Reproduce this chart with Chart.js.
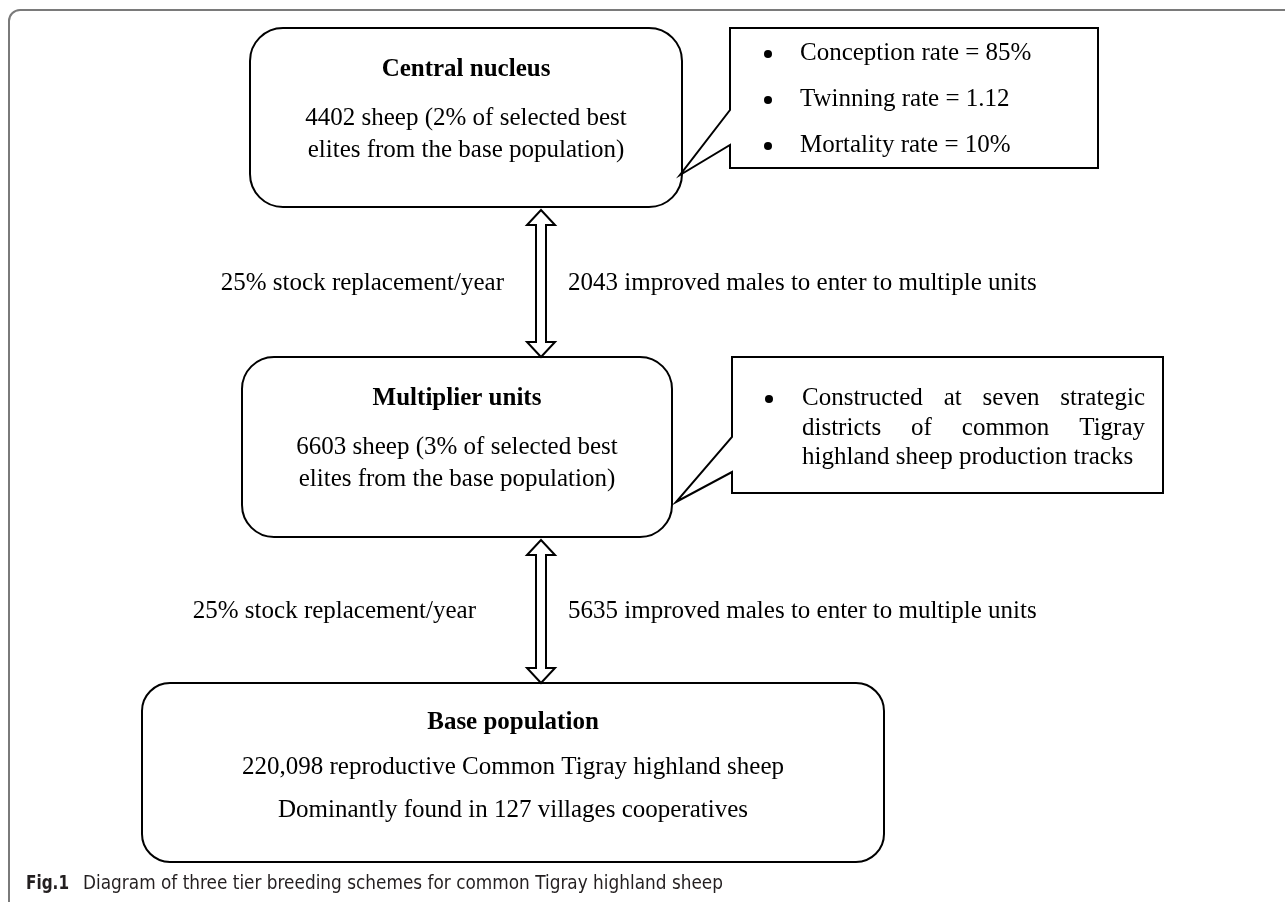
<!DOCTYPE html>
<html>
<head>
<meta charset="utf-8">
<script src="https://cdn.jsdelivr.net/npm/chart.js@4.4.1/dist/chart.umd.min.js"></script>
<style>
html,body{margin:0;padding:0;background:#fff;}
#wrap{width:1285px;height:902px;position:relative;}
</style>
</head>
<body>
<div id="wrap"><canvas id="c"></canvas></div>
<script>
// ---- content (data) ----
const tierTitles = ['Central nucleus', 'Multiplier units', 'Base population'];
const tierLines = [
  ['4402 sheep (2% of selected best', 'elites from the base population)'],
  ['6603 sheep (3% of selected best', 'elites from the base population)'],
  ['220,098 reproductive Common Tigray highland sheep', 'Dominantly found in 127 villages cooperatives']
];
const nucleusNotes = ['Conception rate = 85%', 'Twinning rate = 1.12', 'Mortality rate = 10%'];
const multiplierNotes = ['Constructed at seven strategic', 'districts of common Tigray', 'highland sheep production tracks'];
const flowLeft = ['25% stock replacement/year', '25% stock replacement/year'];
const flowRight = ['2043 improved males to enter to multiple units', '5635 improved males to enter to multiple units'];
const captionLabel = 'Fig.1';
const captionText = 'Diagram of three tier breeding schemes for common Tigray highland sheep';

// ---- layout (page units on the chart's own x/y scales) ----
const boxLayout = [
  {x0: 250, y0: 28,  x1: 682, y1: 207, r: 33, title: 70,  lines: [118, 150]},
  {x0: 242, y0: 357, x1: 672, y1: 537, r: 32, title: 399, lines: [447, 479]},
  {x0: 142, y0: 683, x1: 884, y1: 862, r: 28, title: 723, lines: [767, 810]}
];
const noteLayout = [
  {x0: 730, y0: 28, x1: 1098, y1: 168, tailA: 110, tailB: 145, tip: [680, 175], bullet: 768, text: 800, right: null, rows: [53, 99, 145]},
  {x0: 732, y0: 357, x1: 1163, y1: 493, tailA: 437, tailB: 472, tip: [676, 502], bullet: 769, text: 802, right: 1145, rows: [398, 428, 457]}
];
const arrowLayout = [{x: 541, y0: 210, y1: 357, label: 283, leftEnd: 504, rightStart: 568},
                     {x: 541, y0: 540, y1: 683, label: 611, leftEnd: 476, rightStart: 568}];

const SERIF = '"Liberation Serif", "Times New Roman", serif';
const CAPFONT = '"Liberation Sans Narrow", "DejaVu Sans Condensed", "Open Sans", sans-serif';
const FS = 25;

const diagramPlugin = {
  id: 'diagram',
  afterDatasetsDraw(chart) {
    const ctx = chart.ctx, sx = chart.scales.x, sy = chart.scales.y;
    const X = v => sx.getPixelForValue(v), Y = v => sy.getPixelForValue(v);
    ctx.save();

    // outer frame
    ctx.strokeStyle = '#7a7a7a'; ctx.lineWidth = 2;
    ctx.beginPath();
    ctx.moveTo(X(9), Y(902)); ctx.lineTo(X(9), Y(21));
    ctx.arcTo(X(9), Y(10), X(20), Y(10), 11);
    ctx.lineTo(X(1285), Y(10));
    ctx.stroke();

    // tier boxes
    ctx.strokeStyle = '#000'; ctx.lineWidth = 2; ctx.fillStyle = '#000';
    boxLayout.forEach((b, i) => {
      ctx.beginPath();
      ctx.roundRect(X(b.x0), Y(b.y0), X(b.x1) - X(b.x0), Y(b.y1) - Y(b.y0), b.r);
      ctx.stroke();
      const cx = X((b.x0 + b.x1) / 2);
      ctx.textAlign = 'center'; ctx.textBaseline = 'middle';
      ctx.font = 'bold ' + FS + 'px ' + SERIF;
      ctx.fillText(tierTitles[i], cx, Y(b.title));
      ctx.font = FS + 'px ' + SERIF;
      tierLines[i].forEach((t, k) => ctx.fillText(t, cx, Y(b.lines[k])));
    });

    // callouts
    const notes = [nucleusNotes, multiplierNotes];
    noteLayout.forEach((n, i) => {
      ctx.beginPath();
      ctx.moveTo(X(n.x0), Y(n.y0)); ctx.lineTo(X(n.x1), Y(n.y0));
      ctx.lineTo(X(n.x1), Y(n.y1)); ctx.lineTo(X(n.x0), Y(n.y1));
      ctx.lineTo(X(n.x0), Y(n.tailB)); ctx.lineTo(X(n.tip[0]), Y(n.tip[1]));
      ctx.lineTo(X(n.x0), Y(n.tailA)); ctx.closePath();
      ctx.fillStyle = '#fff'; ctx.fill();
      ctx.lineJoin = 'miter'; ctx.stroke();
      ctx.fillStyle = '#000';
      ctx.font = FS + 'px ' + SERIF; ctx.textBaseline = 'middle'; ctx.textAlign = 'left';
      notes[i].forEach((t, k) => {
        const y = Y(n.rows[k]);
        if (i === 0 || k === 0) {
          ctx.beginPath(); ctx.arc(X(n.bullet), y + 1, 4, 0, Math.PI * 2); ctx.fill();
        }
        const last = k === notes[i].length - 1;
        if (n.right && !last) {
          const words = t.split(' ');
          const wsum = words.reduce((s, w) => s + ctx.measureText(w).width, 0);
          const gap = (X(n.right) - X(n.text) - wsum) / (words.length - 1);
          let x = X(n.text);
          words.forEach(w => { ctx.fillText(w, x, y); x += ctx.measureText(w).width + gap; });
        } else {
          ctx.fillText(t, X(n.text), y);
        }
      });
    });

    // hollow double arrows + flow labels
    arrowLayout.forEach((a, i) => {
      const x = X(a.x), t = Y(a.y0), b = Y(a.y1), hw = 14, sw = 5, hl = 15;
      ctx.beginPath();
      ctx.moveTo(x, t); ctx.lineTo(x + hw, t + hl); ctx.lineTo(x + sw, t + hl);
      ctx.lineTo(x + sw, b - hl); ctx.lineTo(x + hw, b - hl); ctx.lineTo(x, b);
      ctx.lineTo(x - hw, b - hl); ctx.lineTo(x - sw, b - hl); ctx.lineTo(x - sw, t + hl);
      ctx.lineTo(x - hw, t + hl); ctx.closePath();
      ctx.fillStyle = '#fff'; ctx.fill(); ctx.stroke();
      ctx.fillStyle = '#000'; ctx.font = FS + 'px ' + SERIF; ctx.textBaseline = 'middle';
      ctx.textAlign = 'right'; ctx.fillText(flowLeft[i], X(a.leftEnd), Y(a.label));
      ctx.textAlign = 'left'; ctx.fillText(flowRight[i], X(a.rightStart), Y(a.label));
    });

    // caption
    ctx.fillStyle = '#231f20'; ctx.textAlign = 'left'; ctx.textBaseline = 'middle';
    ctx.font = 'bold 19px ' + CAPFONT;
    const lw = ctx.measureText(captionLabel).width;
    ctx.save(); ctx.translate(X(26), Y(884)); ctx.scale((X(69) - X(26)) / lw, 1);
    ctx.fillText(captionLabel, 0, 0); ctx.restore();
    ctx.font = '19px ' + CAPFONT;
    const target = X(723) - X(83);
    const w = ctx.measureText(captionText).width;
    ctx.save(); ctx.translate(X(83), Y(884)); ctx.scale(target / w, 1);
    ctx.fillText(captionText, 0, 0); ctx.restore();

    ctx.restore();
  }
};

const centres = boxLayout.map(b => ({x: (b.x0 + b.x1) / 2, y: (b.y0 + b.y1) / 2}));

new Chart(document.getElementById('c'), {
  type: 'scatter',
  data: {datasets: [{label: 'tiers', data: centres, pointRadius: 0, showLine: false}]},
  options: {
    responsive: true, maintainAspectRatio: false, animation: false,
    layout: {padding: 0},
    plugins: {legend: {display: false}, tooltip: {enabled: false}},
    events: [],
    scales: {
      x: {type: 'linear', min: 0, max: 1285, display: false},
      y: {type: 'linear', min: 0, max: 902, reverse: true, display: false}
    }
  },
  plugins: [diagramPlugin]
});
</script>
</body>
</html>
